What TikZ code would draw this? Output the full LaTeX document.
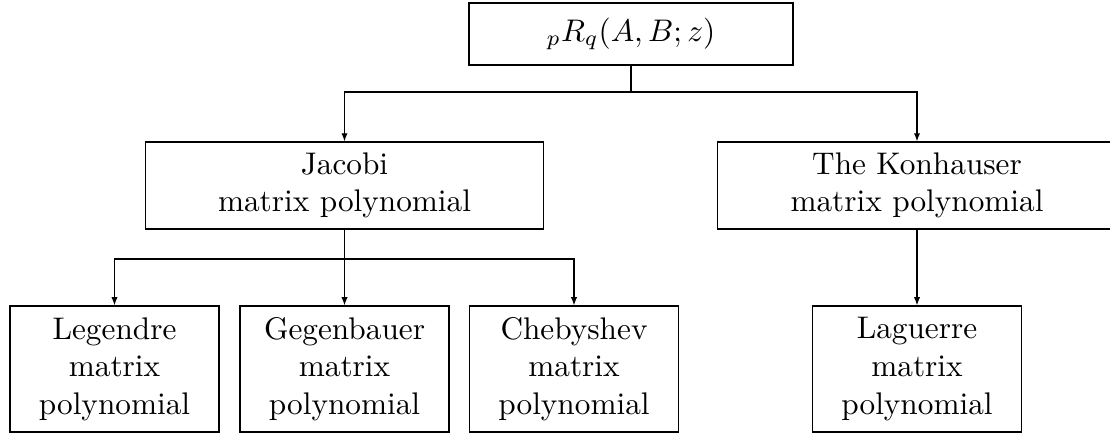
\documentclass[tikz,border=0pt]{standalone}
\usetikzlibrary{arrows.meta}
\begin{document}
\begin{tikzpicture}[x=0.3198pt,y=-0.3198pt,
  box/.style={draw,line width=0.4pt,inner sep=0pt,align=center,font=\normalsize},
  topbox/.style={box,minimum width=103.6pt,minimum height=19.8pt},
  midbox/.style={box,minimum width=127.5pt,minimum height=27.8pt},
  leafbox/.style={box,minimum width=66.8pt,minimum height=40.3pt},
  conn/.style={line width=0.4pt},
  arr/.style={conn,-{Latex[length=2.6pt,width=2pt]}}]
\useasboundingbox (0,0) rectangle (1110,436);
\node[topbox] (top) at (631,34) {${}_pR_q(A,B;z)$};
\node[midbox] (jac) at (344.5,185.5) {Jacobi\\matrix polynomial};
\node[midbox] (kon) at (917,185.5) {The Konhauser\\matrix polynomial};
\node[leafbox] (leg) at (114.5,369) {Legendre\\matrix\\polynomial};
\node[leafbox] (geg) at (344.5,369) {Gegenbauer\\matrix\\polynomial};
\node[leafbox] (che) at (574,369) {Chebyshev\\matrix\\polynomial};
\node[leafbox] (lag) at (917,369) {Laguerre\\matrix\\polynomial};
\coordinate (j1) at (631,92);
\coordinate (j2) at (344.5,259);
\draw[conn] (top.south) -- (j1);
\draw[arr] (j1) -| (jac.north);
\draw[arr] (j1) -| (kon.north);
\draw[conn] (jac.south) -- (j2);
\draw[arr] (j2) -| (leg.north);
\draw[arr] (j2) -- (geg.north);
\draw[arr] (j2) -| (che.north);
\draw[arr] (kon.south) -- (lag.north);
\end{tikzpicture}
\end{document}
